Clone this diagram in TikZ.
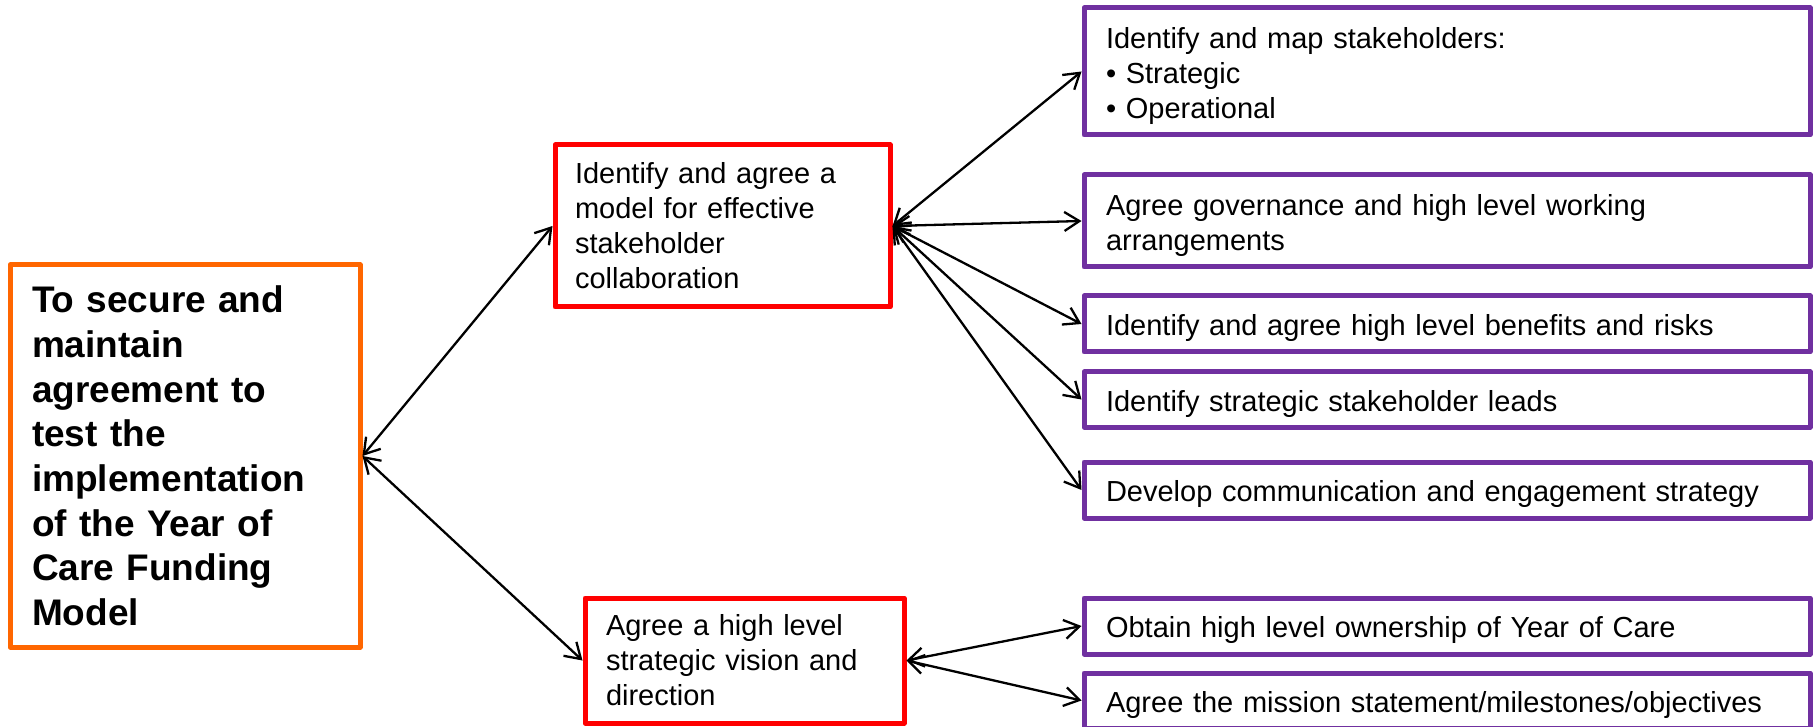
\documentclass[tikz,border=0pt]{standalone}
\usepackage{fontspec}
\setmainfont{Liberation Sans}
\usetikzlibrary{arrows.meta}

\definecolor{goalorange}{RGB}{255,102,0}
\definecolor{stepred}{RGB}{255,0,0}
\definecolor{taskpurple}{RGB}{112,48,160}

\tikzset{
  basebox/.style={draw, line width=5pt, line join=round, fill=white,
    align=left, inner sep=0pt, font=\fontsize{29}{35}\selectfont},
  goalbox/.style={basebox, draw=goalorange,
    font=\fontsize{37}{44.7}\selectfont\bfseries},
  stepbox/.style={basebox, draw=stepred},
  % a tall strut on the first line sets the text a little lower in the box
  taskbox/.style={basebox, draw=taskpurple, minimum width=726pt, text width=682pt,
    execute at begin node={\rule{0pt}{30pt}}},
  link/.style={draw=black, line width=2.3pt,
    {Straight Barb[length=15pt,width=19pt]}-{Straight Barb[length=15pt,width=19pt]}}
}

\begin{document}
\begin{tikzpicture}[x=1pt,y=-1pt]
\useasboundingbox (0,0) rectangle (1816,727);

% goal on the left
\node[goalbox, minimum width=350pt, minimum height=382pt, text width=306pt]
  (goal) at (185,456) {To secure and\\maintain\\agreement to\\test the\\implementation\\of the Year of\\Care Funding\\Model};

% the two main steps
\node[stepbox, minimum width=335pt, minimum height=162pt, text width=295pt]
  (model) at (722.5,226) {Identify and agree a\\model for effective\\stakeholder\\collaboration};
\node[stepbox, minimum width=319pt, minimum height=125pt, text width=277pt]
  (vision) at (744.5,660.5) {Agree a high level\\strategic vision and\\direction};

% tasks under the collaboration model
\node[taskbox, minimum height=127pt] (t1) at (1447,71.5)
  {Identify and map stakeholders:\\• Strategic\\• Operational};
\node[taskbox, minimum height=92pt] (t2) at (1447,221)
  {Agree governance and high level working\\arrangements};
\node[taskbox, minimum height=56pt] (t3) at (1447,324)
  {Identify and agree high level benefits and risks};
\node[taskbox, minimum height=55pt] (t4) at (1447,399.5)
  {Identify strategic stakeholder leads};
\node[taskbox, minimum height=56pt] (t5) at (1447,490)
  {Develop communication and engagement strategy};

% tasks under the strategic vision
\node[taskbox, minimum height=56pt] (t6) at (1447,626)
  {Obtain high level ownership of Year of Care};
\node[taskbox, minimum height=55pt] (t7) at (1447,700.5)
  {Agree the mission statement/milestones/objectives};

% connectors
\draw[link] (goal.east) -- (model.west);
\draw[link] (goal.east) -- (vision.west);
\foreach \t in {t1,t2,t3,t4,t5}
  \draw[link] (model.east) -- (\t.west);
\foreach \t in {t6,t7}
  \draw[link] (vision.east) -- (\t.west);
\end{tikzpicture}
\end{document}
